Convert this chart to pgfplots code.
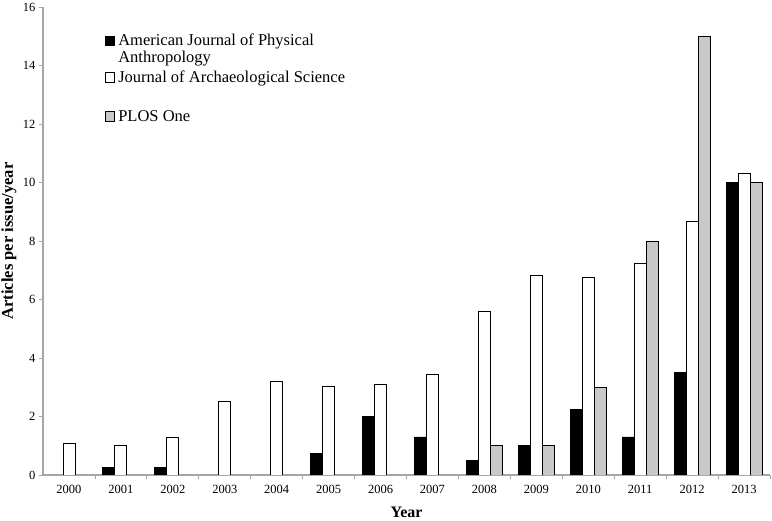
\documentclass[border=0pt]{standalone}
\usepackage{fontspec}
\setmainfont{Liberation Serif}
\usepackage{pgfplots}
\pgfplotsset{compat=1.18}
\definecolor{axgray}{HTML}{A6A6A6}
\definecolor{bargray}{HTML}{C8C8C8}
\begin{document}
\begin{tikzpicture}
\useasboundingbox (-43pt,-46pt) rectangle (729pt,475pt);
\begin{axis}[
  at={(0pt,0pt)}, anchor=south west,
  scale only axis, width=727pt, height=468pt,
  xmin=-0.5, xmax=13.5, ymin=0, ymax=16,
  axis x line*=bottom, axis y line*=left,
  axis line style={draw=axgray, line width=1.3pt},
  xtick={0,...,13},
  xticklabels={2000,2001,2002,2003,2004,2005,2006,2007,2008,2009,2010,2011,2012,2013},
  major x tick style={draw=none},
  minor xtick={0.5,1.5,...,13.5},
  minor x tick style={draw=axgray, line width=0.8pt},
  ytick={0,2,...,16},
  major y tick style={draw=axgray, line width=0.8pt},
  tick align=outside, major tick length=4pt, minor tick length=4pt,
  /pgf/number format/assume math mode=true,
  ticklabel style={font=\fontsize{12.5}{14}\selectfont},
  xticklabel style={yshift=-2.5pt},
  xlabel={Year}, ylabel={Articles per issue/year},
  every axis x label/.style={at={(axis description cs:0.5,0)}, anchor=center, yshift=-37pt,
    font=\bfseries\fontsize{16}{18}\selectfont},
  every axis y label/.style={at={(axis description cs:0,0.5)}, xshift=-34pt, rotate=90, anchor=center,
    font=\bfseries\fontsize{16.5}{18}\selectfont},
  ybar=0pt, bar width=12pt,
  legend image code/.code={\draw[#1,/tikz/.cd] (0pt,0pt) rectangle (9.5pt,9.5pt);},
  legend style={at={(axis description cs:0.085,0.943)}, anchor=north west, draw=none, fill=none,
    font=\fontsize{16.5}{17}\selectfont, row sep=2.5pt, column sep=3pt,
    cells={anchor=base west}, nodes={inner sep=0pt, text depth=}, inner sep=0pt},
]
\addplot[fill=black, draw=black, line width=0.8pt] coordinates {
 (1,0.25) (2,0.25) (5,0.75) (6,2) (7,1.3) (8,0.5) (9,1) (10,2.25) (11,1.3) (12,3.5) (13,10)};
\addlegendentry{{\begin{tabular}[t]{@{}l@{}}American Journal of Physical\\Anthropology\end{tabular}}}
\addplot[fill=white, draw=black, line width=0.8pt] coordinates {
 (0,1.07) (1,1.0) (2,1.27) (3,2.5) (4,3.2) (5,3.03) (6,3.1) (7,3.43) (8,5.6) (9,6.83) (10,6.75) (11,7.25) (12,8.67) (13,10.3)};
\addlegendentry{{\begin{tabular}[t]{@{}l@{}}Journal of Archaeological Science\\[3.5pt]\mbox{}\end{tabular}}}
\addplot[fill=bargray, draw=black, line width=0.8pt] coordinates {
 (8,1) (9,1) (10,3) (11,8) (12,15) (13,10)};
\addlegendentry{PLOS One}
\end{axis}
\end{tikzpicture}
\end{document}
